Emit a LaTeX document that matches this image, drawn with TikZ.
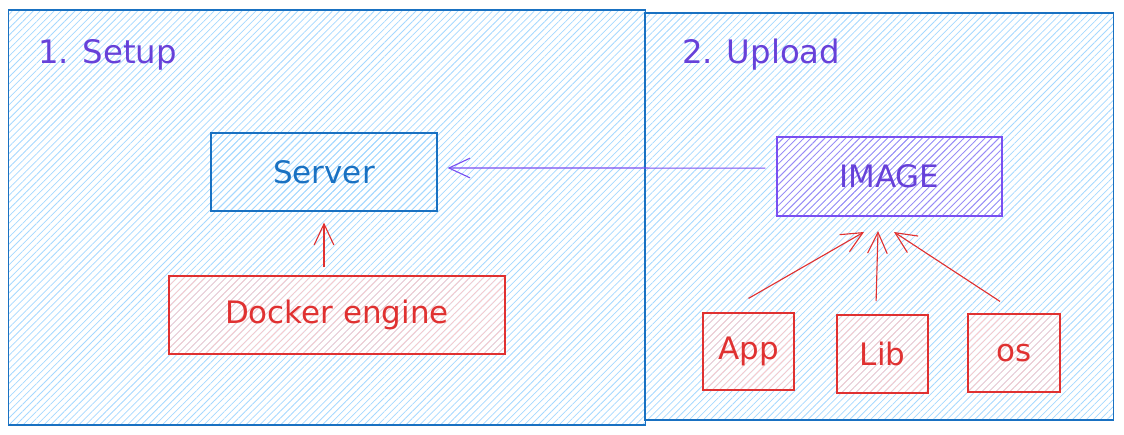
\documentclass[tikz,border=0pt]{standalone}
\usepackage{fontspec}
\setmainfont{DejaVu Sans}
\usetikzlibrary{arrows.meta,patterns.meta}
\definecolor{frameblue}{HTML}{1971C2}
\definecolor{hatchblue}{HTML}{A5D8FF}
\definecolor{titleviolet}{HTML}{6741D9}
\definecolor{imgline}{HTML}{7950F2}
\definecolor{imghatch}{HTML}{9C84F5}
\definecolor{partred}{HTML}{E03131}
\definecolor{parthatch}{HTML}{FFC9C9}
\tikzset{
  hatch/.style={pattern={Lines[angle=45,distance=3.5pt,line width=0.55pt]}, pattern color=#1},
  frame/.style={draw=frameblue, line width=0.8pt, hatch=hatchblue, inner sep=0pt},
  box/.style={draw=#1, text=#1, line width=0.8pt, inner sep=0pt,
              font=\fontsize{22}{22}\selectfont},
  title/.style={text=titleviolet, anchor=west, inner sep=0pt, font=\fontsize{23}{23}\selectfont},
  arr/.style={-{Straight Barb[length=15pt,width=14pt]}, line width=0.8pt}
}

\begin{document}
\begin{tikzpicture}[x=0.025cm,y=-0.025cm]
	\useasboundingbox (0,0) rectangle (1124,434);
	\node[frame, minimum width=15.9cm, minimum height=10.375cm] (setup) at (327,217.5) {};
	\node[frame, minimum width=11.7cm, minimum height=10.175cm] (upload) at (879,216.5) {};
	\node[title] (setuptitle) at (38,55) {1. Setup};
	\node[title] (uploadtitle) at (682,55) {2. Upload};
	\node[box=frameblue, hatch=hatchblue, minimum width=5.65cm, minimum height=1.95cm] (server) at (324,172) {Server};
	\node[box=partred, hatch=parthatch, minimum width=8.4cm, minimum height=1.95cm] (docker) at (337,315) {Docker engine};
	\node[box=imgline, text=titleviolet, hatch=imghatch, minimum width=5.625cm, minimum height=1.975cm] (image) at (889.5,176.5) {IMAGE};
	\node[box=partred, hatch=parthatch, minimum width=2.275cm, minimum height=1.925cm] (app) at (748.5,351.5) {App};
	\node[box=partred, hatch=parthatch, minimum width=2.275cm, minimum height=1.95cm] (lib) at (882.5,354) {Lib};
	\node[box=partred, hatch=parthatch, minimum width=2.3cm, minimum height=1.95cm] (os) at (1014,353) {os};
	\coordinate (tipapp) at (864,232);
	\coordinate (tiplib) at (878,231);
	\coordinate (tipos) at (894,232);
	\draw[arr, imgline, shorten <=0.275cm, shorten >=0.25cm] ([yshift=0.21cm]image.west) -- ([yshift=0.1cm]server.east);
	\draw[arr, partred, shorten <=0.2cm, shorten >=0.275cm] (docker.north -| server.south) -- (server.south);
	\draw[arr, partred] ([yshift=0.35cm]app.north) -- (tipapp);
	\draw[arr, partred] ([xshift=-0.16cm,yshift=0.33cm]lib.north) -- (tiplib);
	\draw[arr, partred] ([xshift=-0.35cm,yshift=0.3cm]os.north) -- (tipos);
\end{tikzpicture}
\end{document}
